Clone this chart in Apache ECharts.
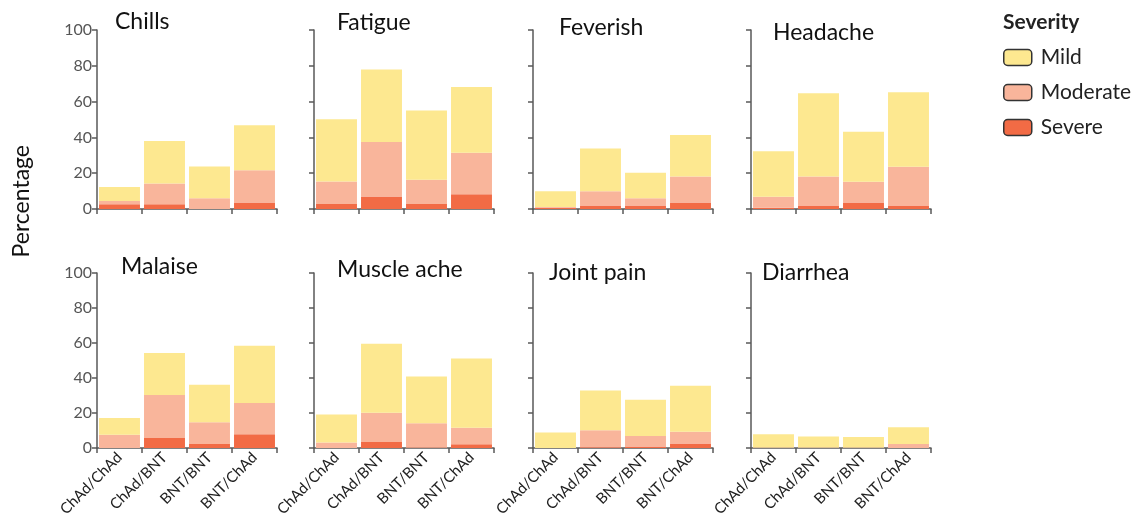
<!DOCTYPE html>
<html>
<head>
<meta charset="utf-8">
<script src="https://cdn.jsdelivr.net/npm/echarts@6/dist/echarts.min.js"></script>
<style>
  html, body { margin: 0; padding: 0; background: #fff; }
  #chart { width: 1136px; height: 521px; }
</style>
</head>
<body>
<div id="chart"></div>
<script>
// data (segment heights, %)
const categories = ["ChAd/ChAd", "ChAd/BNT", "BNT/BNT", "BNT/ChAd"];
const symptoms = ["Chills", "Fatigue", "Feverish", "Headache", "Malaise", "Muscle ache", "Joint pain", "Diarrhea"];
const severe = [
  [2.6, 2.6, 0, 3.7],
  [2.8, 7, 2.8, 8.2],
  [0.7, 1.9, 1.9, 3.7],
  [0.7, 1.9, 3.7, 1.9],
  [0, 5.7, 2.3, 7.8],
  [0, 3.4, 0.3, 2.1],
  [0, 0.4, 0.9, 2.6],
  [0, 0, 0, 0]
];
const moderate = [
  [1.9, 11.7, 6, 18],
  [12.6, 30.4, 13.6, 23.2],
  [0.4, 8, 4.1, 14.5],
  [6.2, 16.3, 11.5, 21.7],
  [7.6, 24.6, 12.4, 17.9],
  [3.2, 16.7, 13.9, 9.5],
  [0, 9.7, 6, 6.7],
  [0.3, 0.3, 0.3, 2.3]
];
const mild = [
  [7.8, 23.7, 17.8, 25.1],
  [34.8, 40.6, 38.6, 36.8],
  [8.8, 23.9, 14.3, 23.1],
  [25.4, 46.5, 27.9, 41.6],
  [9.5, 24, 21.5, 32.8],
  [16, 39.5, 26.6, 39.6],
  [8.9, 22.7, 20.7, 26.3],
  [7.5, 6.3, 6, 9.5]
];
const yTicks = [0, 20, 40, 60, 80, 100];

const colors = { Severe: "#f26b45", Moderate: "#f9b59b", Mild: "#fde890" };
const font = "Lato, 'Open Sans', sans-serif";

// panel layout
const colLeft = [97, 314, 533, 751];
const rowTop = [30, 273];
const rowHeight = [179, 175];
const titlePos = [
  [115, 10], [337, 11], [559, 16], [773, 21],
  [121, 255], [337, 258], [549, 261], [762, 261]
];

const chart = echarts.init(document.getElementById("chart"));

const grids = [], xAxes = [], yAxes = [], series = [], titles = [];
symptoms.forEach((name, i) => {
  const row = Math.floor(i / 4), col = i % 4;
  grids.push({ left: colLeft[col], top: rowTop[row], width: 180, height: rowHeight[row] });
  xAxes.push({
    type: "category", gridIndex: i, data: categories,
    axisLine: { lineStyle: { color: "#595959", width: 1.5 } },
    axisTick: { show: true, length: 5, lineStyle: { color: "#595959", width: 1.5 } },
    axisLabel: {
      show: row === 1, rotate: 45, fontSize: 15, color: "#222",
      fontFamily: font, margin: 7, interval: 0
    }
  });
  yAxes.push({
    type: "value", gridIndex: i, min: yTicks[0], max: yTicks[yTicks.length - 1], interval: 20,
    splitLine: { show: false },
    axisLine: { show: true, lineStyle: { color: "#595959", width: 1.5 } },
    axisTick: { show: true, length: 5, lineStyle: { color: "#595959", width: 1.5 } },
    axisLabel: { show: col === 0, fontSize: 16, color: "#555", fontFamily: font, margin: 5 }
  });
  titles.push({
    text: name, left: titlePos[i][0], top: titlePos[i][1], padding: 0,
    textStyle: { fontSize: 23, fontWeight: "normal", color: "#111", fontFamily: font }
  });
  [["Severe", severe], ["Moderate", moderate], ["Mild", mild]].forEach(([sName, arr]) => {
    series.push({
      name: sName, type: "bar", xAxisIndex: i, yAxisIndex: i, stack: "s" + i,
      data: arr[i], barCategoryGap: "9%",
      itemStyle: { color: colors[sName] },
      emphasis: { disabled: true }
    });
  });
});

chart.setOption({
  animation: false,
  title: titles,
  grid: grids,
  xAxis: xAxes,
  yAxis: yAxes,
  series: series,
  legend: {
    data: ["Mild", "Moderate", "Severe"],
    orient: "vertical", left: 1003, top: 47, padding: 0,
    itemWidth: 28, itemHeight: 16, itemGap: 14,
    itemStyle: { borderColor: "#333", borderWidth: 1.5 },
    textStyle: { fontSize: 21, color: "#222", fontFamily: font, padding: [0, 0, 0, 4] }
  },
  graphic: [
    {
      type: "text", left: 1003, top: 12,
      style: { text: "Severity", fontSize: 21, fontWeight: "bold", fill: "#222", fontFamily: font }
    },
    {
      type: "text", left: 10, top: 145, rotation: Math.PI / 2,
      style: { text: "Percentage", fontSize: 23, fill: "#111", fontFamily: font }
    }
  ]
});
</script>
</body>
</html>
